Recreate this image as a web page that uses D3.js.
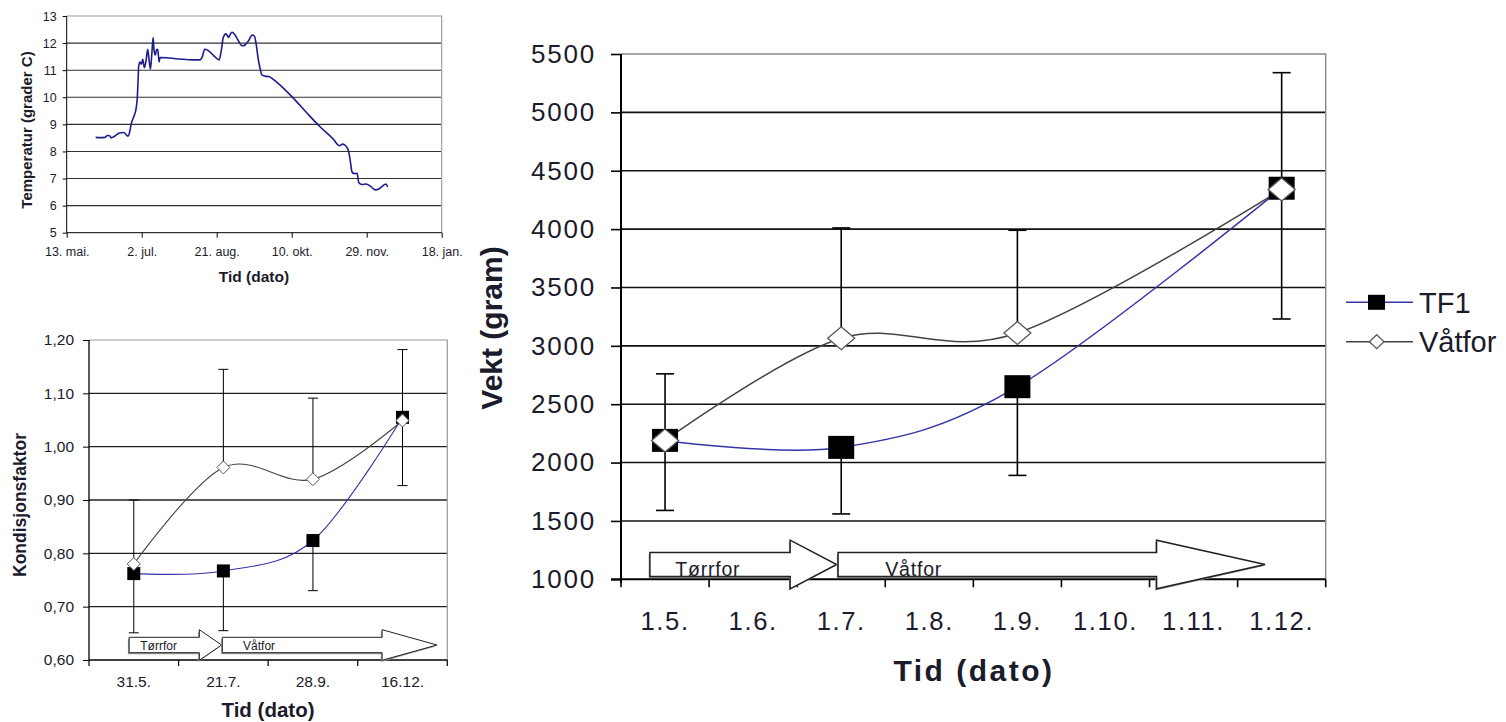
<!DOCTYPE html>
<html><head><meta charset="utf-8">
<script src="https://cdn.jsdelivr.net/npm/d3@7"></script>
<style>body{margin:0;background:#fff}svg{display:block}text{font-family:"Liberation Sans",Arial,sans-serif}</style>
</head><body>
<script>
// ---------------- DATA ----------------
// Temperature (days after 13. mai)
const tempDays = [19.3,22.2,25.6,27.1,28.7,29.6,32.2,35.1,38.2,39.8,40.9,41.8,43.1,44.9,46.4,47.1,47.6,48.0,48.9,49.8,50.7,51.8,52.9,54.0,54.9,55.8,56.7,57.6,58.2,59.1,59.8,60.7,61.6,62.2,66.7,75.6,84.4,88.9,90.4,92.0,94.4,97.8,101.6,103.1,104.4,106.2,108.0,108.9,110.2,112.0,114.2,116.9,119.1,121.3,123.6,125.1,126.4,127.6,128.9,130.2,132.2,135.1,138.2,144.4,151.1,160.0,168.9,177.8,181.8,184.0,185.8,187.8,188.9,190.2,191.6,193.6,194.7,196.7,199.6,202.7,205.8,207.8,210.2,212.9,214.0];
const tempValues = [8.52,8.51,8.52,8.59,8.58,8.50,8.57,8.68,8.70,8.61,8.56,8.67,9.04,9.31,9.63,10.02,10.64,11.15,11.30,11.22,11.40,11.09,11.35,11.77,11.38,11.04,11.56,12.20,11.74,11.56,11.74,11.77,11.30,11.47,11.46,11.41,11.38,11.38,11.50,11.77,11.72,11.55,11.38,11.74,12.21,12.34,12.21,12.31,12.40,12.32,12.11,11.90,11.94,12.09,12.30,12.26,11.93,11.44,11.07,10.82,10.78,10.76,10.64,10.34,9.97,9.43,8.91,8.45,8.21,8.27,8.22,8.03,7.71,7.25,7.18,7.19,6.85,6.78,6.80,6.71,6.58,6.60,6.71,6.80,6.69];
const tempTickDays = [0,50,100,150,200,250];
const tempTickLabels = ["13. mai.","2. jul.","21. aug.","10. okt.","29. nov.","18. jan."];
const tempYTicks = [5,6,7,8,9,10,11,12,13];

// Kondisjonsfaktor
const kondDates = ["31.5.","21.7.","28.9.","16.12."];
const kondTF1 = [0.762,0.767,0.824,1.055];
const kondVatfor = [0.780,0.961,0.939,1.049];
const kondErrPlus = [0.120,0.184,0.152,0.133];   // on Våtfor
const kondErrMinus = [0.111,0.112,0.094,0.128];  // on TF1
const kondYTicks = [0.6,0.7,0.8,0.9,1.0,1.1,1.2];

// Vekt
const vektMonths = ["1.5.","1.6.","1.7.","1.8.","1.9.","1.10.","1.11.","1.12."];
const vektDates = ["1.5.","1.7.","1.9.","1.12."];
const vektTF1 = [2190,2130,2650,4350];
const vektVatfor = [2190,3065,3110,4340];
const vektErrPlus = [570,945,880,1000];   // on Våtfor
const vektErrMinus = [600,570,760,1120];  // on TF1
const vektYTicks = [1000,1500,2000,2500,3000,3500,4000,4500,5000,5500];

const seriesNames = ["TF1","Våtfor"];
const feedPhases = ["Tørrfor","Våtfor"];

// ---------------- DRAW ----------------
const svg = d3.select("body").append("svg").attr("width",1506).attr("height",722);
svg.append("rect").attr("width",1506).attr("height",722).attr("fill","#fff");
const TXT = "#1b1b2b";
const BLUE_T = "#1c1c8c";
const BLUE = "#3535a8";
const GRAY = "#444";
const smooth = d3.curveCardinal.tension(0);

function styleAxis(g, fs, ls){
  g.select(".domain").remove();
  g.selectAll(".tick line").attr("stroke","#000");
  g.selectAll("text").attr("fill",TXT).attr("font-size",fs).style("letter-spacing",(ls||0)+"px").attr("font-family",null);
}

function arrow(g, x0, xHead, xTip, yMid, bh, hh, sw){
  const d = `M${x0},${yMid-bh}L${xHead},${yMid-bh}L${xHead},${yMid-hh}L${xTip},${yMid}L${xHead},${yMid+hh}L${xHead},${yMid+bh}L${x0},${yMid+bh}Z`;
  g.append("path").attr("d",d).attr("transform","translate(-1.2,1.6)").attr("fill","#999");
  g.append("path").attr("d",d).attr("fill","#fff").attr("stroke","#222").attr("stroke-width",sw);
}

// ===== Chart 1: Temperatur =====
{
  const c = {l:66.7, r:441.7, t:16, b:232.7};
  const x = d3.scaleLinear().domain([0,250]).range([c.l,c.r]);
  const y = d3.scaleLinear().domain([5,13]).range([c.b,c.t]);
  const g = svg.append("g");
  g.selectAll(".gl").data(tempYTicks.filter(v=>v>5&&v<13)).join("line")
    .attr("x1",c.l).attr("x2",c.r).attr("y1",d=>y(d)).attr("y2",d=>y(d))
    .attr("stroke","#333").attr("stroke-width",1.1);
  g.append("path").attr("d",`M${c.l},${c.t}H${c.r}V${c.b}`).attr("fill","none").attr("stroke","#999").attr("stroke-width",1.1);
  const ya = g.append("g").attr("transform",`translate(${c.l},0)`)
    .call(d3.axisLeft(y).tickValues(tempYTicks).tickSize(4).tickPadding(6));
  styleAxis(ya,12.5);
  const xa = g.append("g").attr("transform",`translate(0,${c.b})`)
    .call(d3.axisBottom(x).tickValues(tempTickDays).tickFormat((d,i)=>tempTickLabels[i]).tickSize(5).tickPadding(9));
  styleAxis(xa,12.5);
  g.append("line").attr("x1",c.l).attr("x2",c.l).attr("y1",c.t).attr("y2",c.b).attr("stroke","#000");
  g.append("line").attr("x1",c.l).attr("x2",c.r).attr("y1",c.b).attr("y2",c.b).attr("stroke","#000");
  const line = d3.line().x((d,i)=>x(tempDays[i])).y(d=>y(d)).curve(d3.curveMonotoneX);
  g.append("path").attr("d",line(tempValues)).attr("fill","none").attr("stroke",BLUE_T).attr("stroke-width",1.6);
  g.append("text").attr("x",254).attr("y",282).attr("text-anchor","middle").attr("font-weight","bold").attr("font-size",15.5).attr("fill",TXT).text("Tid (dato)");
  g.append("text").attr("transform","translate(32,130) rotate(-90)").attr("text-anchor","middle").attr("font-weight","bold").attr("font-size",15).attr("fill",TXT).text("Temperatur (grader C)");
}

// ===== Chart 2: Kondisjonsfaktor =====
{
  const c = {l:89, r:447.3, t:340, b:660};
  const x = d3.scaleBand().domain(kondDates).range([c.l,c.r]);
  const y = d3.scaleLinear().domain([0.6,1.2]).range([c.b,c.t]);
  const cx = d => x(d)+x.bandwidth()/2;
  const g = svg.append("g");
  g.selectAll(".gl").data(kondYTicks.filter(v=>v>0.65&&v<1.15)).join("line")
    .attr("x1",c.l).attr("x2",c.r).attr("y1",d=>y(d)).attr("y2",d=>y(d))
    .attr("stroke","#222").attr("stroke-width",1.3);
  g.append("path").attr("d",`M${c.l},${c.t}H${c.r}V${c.b}`).attr("fill","none").attr("stroke","#999").attr("stroke-width",1.2);
  const ya = g.append("g").attr("transform",`translate(${c.l},0)`)
    .call(d3.axisLeft(y).tickValues(kondYTicks).tickFormat(d=>d3.format(".2f")(d).replace(".",",")).tickSize(6).tickPadding(9));
  styleAxis(ya,15.5);
  const xa = g.append("g").attr("transform",`translate(0,${c.b})`)
    .call(d3.axisBottom(x).tickSize(0).tickPadding(16));
  styleAxis(xa,15.5);
  g.selectAll(".xt").data(d3.range(kondDates.length+1)).join("line")
    .attr("x1",i=>c.l+i*x.step()).attr("x2",i=>c.l+i*x.step()).attr("y1",c.b).attr("y2",c.b+6).attr("stroke","#000").attr("stroke-width",1.2);
  g.append("line").attr("x1",c.l).attr("x2",c.l).attr("y1",c.t).attr("y2",c.b).attr("stroke","#000").attr("stroke-width",1.3);
  g.append("line").attr("x1",c.l).attr("x2",c.r).attr("y1",c.b).attr("y2",c.b).attr("stroke","#000").attr("stroke-width",1.3);
  // arrows
  const W = c.r-c.l, ym = c.b-15;
  arrow(g, c.l+0.112*W, c.l+0.308*W, c.l+0.370*W, ym, 7.7, 15.3, 1);
  arrow(g, c.l+0.372*W, c.l+0.818*W, c.l+0.971*W, ym, 7.7, 15.3, 1);
  g.append("text").attr("x",c.l+0.143*W).attr("y",ym+4.5).attr("font-size",12).attr("fill",TXT).text(feedPhases[0]);
  g.append("text").attr("x",c.l+0.43*W).attr("y",ym+4.5).attr("font-size",12).attr("fill",TXT).text(feedPhases[1]);
  // error bars
  const cap = 5;
  kondDates.forEach((d,i)=>{
    const X = cx(d), top = y(kondVatfor[i]+kondErrPlus[i]), bot = y(kondTF1[i]-kondErrMinus[i]);
    g.append("line").attr("x1",X).attr("x2",X).attr("y1",top).attr("y2",y(kondVatfor[i])).attr("stroke","#000").attr("stroke-width",1);
    g.append("line").attr("x1",X).attr("x2",X).attr("y1",bot).attr("y2",y(kondTF1[i])).attr("stroke","#000").attr("stroke-width",1);
    g.append("line").attr("x1",X-cap).attr("x2",X+cap).attr("y1",top).attr("y2",top).attr("stroke","#000").attr("stroke-width",1);
    g.append("line").attr("x1",X-cap).attr("x2",X+cap).attr("y1",bot).attr("y2",bot).attr("stroke","#000").attr("stroke-width",1);
  });
  const line = arr => d3.line().x((v,i)=>cx(kondDates[i])).y(v=>y(v)).curve(smooth)(arr);
  g.append("path").attr("d",line(kondVatfor)).attr("fill","none").attr("stroke",GRAY).attr("stroke-width",1.1);
  g.append("path").attr("d",line(kondTF1)).attr("fill","none").attr("stroke",BLUE).attr("stroke-width",1.1);
  g.selectAll(".sq").data(kondTF1).join("rect")
    .attr("x",(v,i)=>cx(kondDates[i])-6.5).attr("y",v=>y(v)-6.5).attr("width",13).attr("height",13).attr("fill","#000");
  g.selectAll(".dm").data(kondVatfor).join("path")
    .attr("d",(v,i)=>{const X=cx(kondDates[i]),Y=y(v);return `M${X},${Y-6.5}L${X+6.5},${Y}L${X},${Y+6.5}L${X-6.5},${Y}Z`;})
    .attr("fill","#fff").attr("stroke","#555").attr("stroke-width",1);
  g.append("text").attr("x",268).attr("y",717).attr("text-anchor","middle").attr("font-weight","bold").attr("font-size",20.5).attr("fill",TXT).text("Tid (dato)");
  g.append("text").attr("transform","translate(26,505) rotate(-90)").attr("text-anchor","middle").attr("font-weight","bold").attr("font-size",17.5).attr("fill",TXT).text("Kondisjonsfaktor");
}

// ===== Chart 3: Vekt =====
{
  const c = {l:621, r:1325.7, t:54, b:579.3};
  const x = d3.scaleBand().domain(vektMonths).range([c.l,c.r]);
  const y = d3.scaleLinear().domain([1000,5500]).range([c.b,c.t]);
  const cx = d => x(d)+x.bandwidth()/2;
  const g = svg.append("g");
  g.selectAll(".gl").data(vektYTicks.filter(v=>v>1000&&v<5500)).join("line")
    .attr("x1",c.l).attr("x2",c.r).attr("y1",d=>y(d)).attr("y2",d=>y(d))
    .attr("stroke","#111").attr("stroke-width",1.6);
  g.append("path").attr("d",`M${c.l},${c.t}H${c.r}V${c.b}`).attr("fill","none").attr("stroke","#8a8a8a").attr("stroke-width",1.4);
  const ya = g.append("g").attr("transform",`translate(${c.l},0)`)
    .call(d3.axisLeft(y).tickValues(vektYTicks).tickFormat(d3.format("d")).tickSize(10).tickPadding(15));
  styleAxis(ya,26,1.8);
  ya.selectAll(".tick line").attr("stroke-width",1.6);
  const xa = g.append("g").attr("transform",`translate(0,${c.b})`)
    .call(d3.axisBottom(x).tickSize(0).tickPadding(33));
  styleAxis(xa,25.6,1.6);
  g.selectAll(".xt").data(d3.range(vektMonths.length+1)).join("line")
    .attr("x1",i=>c.l+i*x.step()).attr("x2",i=>c.l+i*x.step()).attr("y1",c.b).attr("y2",c.b+8).attr("stroke","#000").attr("stroke-width",1.6);
  g.append("line").attr("x1",c.l).attr("x2",c.l).attr("y1",c.t).attr("y2",c.b+4).attr("stroke","#000").attr("stroke-width",2);
  g.append("line").attr("x1",c.l-10).attr("x2",c.r).attr("y1",c.b).attr("y2",c.b).attr("stroke","#000").attr("stroke-width",2);
  // arrows
  const W = c.r-c.l, ym = c.b-14.8;
  arrow(g, c.l+0.041*W, c.l+0.240*W, c.l+0.306*W, ym, 12, 24.3, 1.5);
  arrow(g, c.l+0.308*W, c.l+0.760*W, c.l+0.914*W, ym, 12, 24.3, 1.5);
  g.append("text").attr("x",c.l+0.077*W).attr("y",ym+11).attr("font-size",19.5).style("letter-spacing","0.8px").attr("fill",TXT).text(feedPhases[0]);
  g.append("text").attr("x",c.l+0.375*W).attr("y",ym+11).attr("font-size",19.5).style("letter-spacing","0.8px").attr("fill",TXT).text(feedPhases[1]);
  // error bars
  const cap = 9;
  vektDates.forEach((d,i)=>{
    const X = cx(d), top = y(vektVatfor[i]+vektErrPlus[i]), bot = y(vektTF1[i]-vektErrMinus[i]);
    g.append("line").attr("x1",X).attr("x2",X).attr("y1",top).attr("y2",y(vektVatfor[i])).attr("stroke","#000").attr("stroke-width",1.6);
    g.append("line").attr("x1",X).attr("x2",X).attr("y1",bot).attr("y2",y(vektTF1[i])).attr("stroke","#000").attr("stroke-width",1.6);
    g.append("line").attr("x1",X-cap).attr("x2",X+cap).attr("y1",top).attr("y2",top).attr("stroke","#000").attr("stroke-width",1.6);
    g.append("line").attr("x1",X-cap).attr("x2",X+cap).attr("y1",bot).attr("y2",bot).attr("stroke","#000").attr("stroke-width",1.6);
  });
  const line = arr => d3.line().x((v,i)=>cx(vektDates[i])).y(v=>y(v)).curve(smooth)(arr);
  g.append("path").attr("d",line(vektVatfor)).attr("fill","none").attr("stroke",GRAY).attr("stroke-width",1.5);
  g.append("path").attr("d",line(vektTF1)).attr("fill","none").attr("stroke",BLUE).attr("stroke-width",1.5);
  g.selectAll(".sq").data(vektTF1).join("rect")
    .attr("x",(v,i)=>cx(vektDates[i])-13).attr("y",v=>y(v)-11.5).attr("width",26).attr("height",23).attr("fill","#000");
  g.selectAll(".dm").data(vektVatfor).join("path")
    .attr("d",(v,i)=>{const X=cx(vektDates[i]),Y=y(v);return `M${X},${Y-11.5}L${X+13.5},${Y}L${X},${Y+11.5}L${X-13.5},${Y}Z`;})
    .attr("fill","#fff").attr("stroke","#555").attr("stroke-width",1.3);
  g.append("text").attr("x",974).attr("y",681).attr("text-anchor","middle").attr("font-weight","bold").attr("font-size",30).style("letter-spacing","2.5px").attr("fill",TXT).text("Tid (dato)");
  g.append("text").attr("transform","translate(502,328) rotate(-90)").attr("text-anchor","middle").attr("font-weight","bold").attr("font-size",30).attr("fill",TXT).text("Vekt (gram)");
  // legend
  const lg = g.append("g");
  const ly = [302.3, 341.7];
  lg.append("line").attr("x1",1346).attr("x2",1413).attr("y1",ly[0]).attr("y2",ly[0]).attr("stroke",BLUE).attr("stroke-width",1.5);
  lg.append("rect").attr("x",1368).attr("y",ly[0]-7.5).attr("width",17).attr("height",15).attr("fill","#000");
  lg.append("line").attr("x1",1346).attr("x2",1413).attr("y1",ly[1]).attr("y2",ly[1]).attr("stroke",GRAY).attr("stroke-width",1.5);
  lg.append("path").attr("d",`M1376.7,${ly[1]-7}L1384,${ly[1]}L1376.7,${ly[1]+7}L1369.4,${ly[1]}Z`).attr("fill","#fff").attr("stroke","#555").attr("stroke-width",1.2);
  lg.selectAll(".lt").data(seriesNames).join("text")
    .attr("x",1419).attr("y",(d,i)=>ly[i]+10.5).attr("font-size",29).attr("fill",TXT).text(d=>d);
}
</script></body></html>
